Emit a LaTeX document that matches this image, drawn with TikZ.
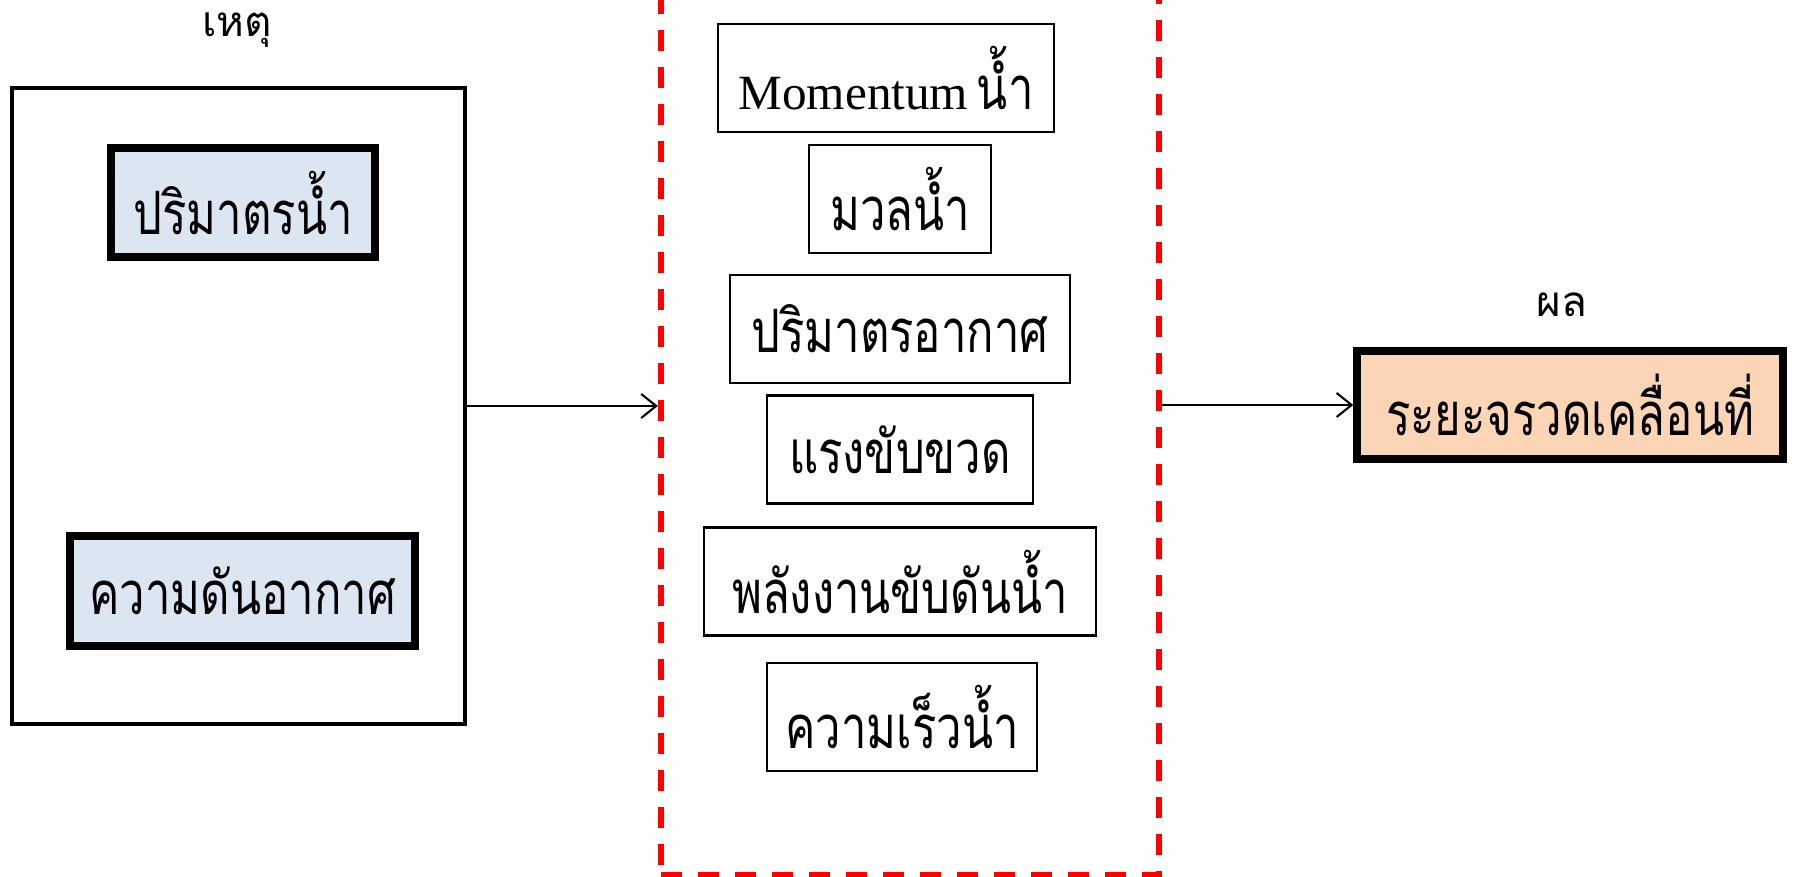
\documentclass[tikz,border=0pt]{standalone}
\usepackage{fontspec}
\setmainfont{Liberation Serif}
\newfontfamily\thaifont[Script=Thai,FakeStretch=0.76]{Loma}
\newfontfamily\thaihead[Script=Thai]{Loma}
\usetikzlibrary{arrows.meta}
\definecolor{causeblue}{HTML}{DCE6F2}
\definecolor{effectpeach}{HTML}{FBD5B5}
\newcommand{\boxtext}{\fontsize{17}{20}\thaifont}
\newcommand{\headtext}{\fontsize{12}{14}\thaihead}

\begin{document}
\begin{tikzpicture}[x=0.01cm,y=-0.01cm]
        \useasboundingbox (0,0) rectangle (1794,877);

        % cause side
        \node (causehead) at (237,30) {\headtext เหตุ};
        \node[draw,line width=1.1pt,minimum width=4.53cm,minimum height=6.36cm] (cause) at (238.5,406) {};

        \begin{scope}[every node/.style={draw,line width=2.3pt,fill=causeblue,inner sep=0pt}]
          \node[minimum width=2.63cm,minimum height=1.09cm] (watervol) at (243,202.5) {\boxtext ปริมาตรน้ำ};
          \node[minimum width=3.45cm,minimum height=1.10cm] (airpress) at (242.5,591) {\boxtext ความดันอากาศ};
        \end{scope}

        % middle frame
        \node[draw=red,line width=1.7pt,dash pattern=on 0.21cm off 0.16cm,minimum width=4.98cm,minimum height=9.05cm] (mid) at (910,422.5) {};

        \begin{scope}[every node/.style={draw,line width=0.6pt,inner sep=0pt,minimum height=1.08cm}]
          \node[minimum width=3.36cm] (momentum) at (886,78) {{\fontsize{14}{16}\selectfont Momentum} \boxtext น้ำ};
          \node[minimum width=1.82cm] (mass)     at (900,199) {\boxtext มวลน้ำ};
          \node[minimum width=3.40cm] (airvol)   at (900,329) {\boxtext ปริมาตรอากาศ};
          \node[minimum width=2.66cm] (thrust)   at (900,449.5) {\boxtext แรงขับขวด};
          \node[minimum width=3.92cm] (energy)   at (900,581.5) {\boxtext พลังงานขับดันน้ำ};
          \node[minimum width=2.70cm] (speed)    at (902,717) {\boxtext ความเร็วน้ำ};
        \end{scope}

        % effect side
        \node (effecthead) at (1562,305) {\headtext ผล};
        \node[draw,line width=2.3pt,fill=effectpeach,inner sep=0pt,minimum width=4.25cm,minimum height=1.08cm] (effect) at (1570,405) {\boxtext ระยะจรวดเคลื่อนที่};

        \begin{scope}[line width=0.6pt,-{Straight Barb[length=0.15cm,width=0.24cm]}]
          \draw (cause.east) -- (cause.east -| mid.west);
          \draw (mid.east |- effect.west) -- (effect.west);
        \end{scope}

      \end{tikzpicture}
\end{document}
